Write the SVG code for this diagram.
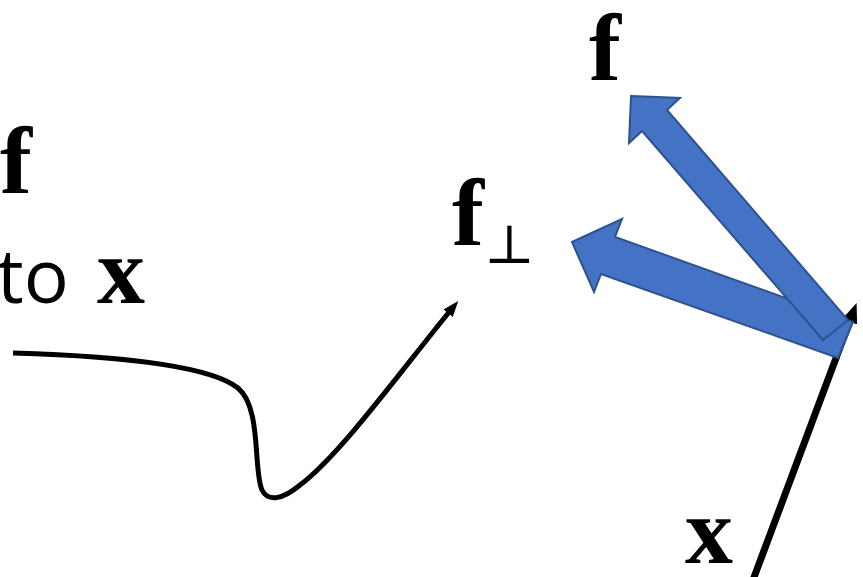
<svg xmlns="http://www.w3.org/2000/svg" width="863" height="577" viewBox="0 0 863 577">
<style>
.bf{font-family:"Liberation Serif","DejaVu Serif",serif;font-weight:bold;fill:#000}
.sans{font-family:"Open Sans","Noto Sans",sans-serif;fill:#000}
.blue{fill:#4472C4;stroke:#2F528F;stroke-width:2;stroke-linejoin:miter}
.ln{fill:none;stroke:#000}
</style>
<defs>
<marker id="ah" markerUnits="userSpaceOnUse" markerWidth="20" markerHeight="20" viewBox="0 0 20 20" refX="4" refY="10" orient="auto">
<path d="M0,2 L20,10 L0,18 Z" fill="#000"/>
</marker>
<marker id="ah2" markerUnits="userSpaceOnUse" markerWidth="16" markerHeight="14" viewBox="0 0 16 14" refX="3" refY="7" orient="auto">
<path d="M0,1 L16,7 L0,13 Z" fill="#000"/>
</marker>
</defs>
<g id="label-f-left"><text class="bf" x="0" y="193" font-size="96">f</text></g>
<g id="label-to-x"><text x="-3" y="303"><tspan class="sans" font-size="75">to</tspan><tspan class="bf" font-size="96" x="97">x</tspan></text></g>
<g id="label-fperp"><text x="452" y="245"><tspan class="bf" font-size="96">f</tspan><tspan font-family="DejaVu Serif,serif" font-size="54" dy="18">⊥</tspan></text></g>
<g id="label-f-top"><text class="bf" x="589" y="80" font-size="96">f</text></g>
<g id="label-x-bottom"><text class="bf" x="685" y="563" font-size="96">x</text></g>
<g id="connectors">
<path class="ln" stroke-width="5" d="M13,353 C150,357 215,370 238,388 C262,408 253,470 262,490 C268,502 282,500 300,485 C340,455 400,372 450,311" marker-end="url(#ah2)"/>
<line class="ln" stroke-width="7" x1="753" y1="580" x2="851" y2="318" marker-end="url(#ah)"/>
</g>
<g id="arrow-fperp"><polygon class="blue" points="572,242 622,219 615,237 853,322 838,358 601,274 594,292"/></g>
<g id="arrow-f"><polygon class="blue" points="631,96 680,98 667,110 848,320 823,340 642,131 629,143"/></g>
</svg>
